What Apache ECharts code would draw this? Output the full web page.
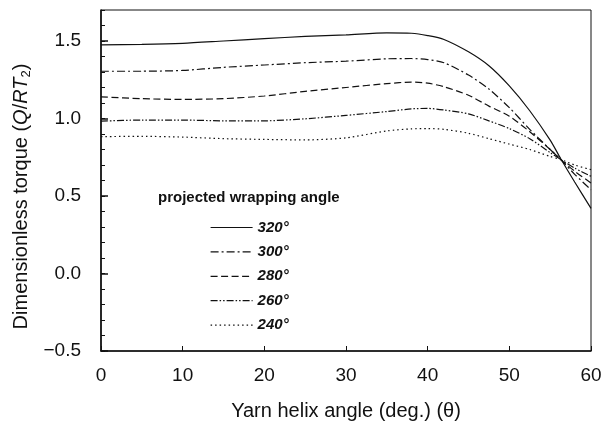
<!DOCTYPE html>
<html>
<head>
<meta charset="utf-8">
<script src="https://cdn.jsdelivr.net/npm/echarts@6/dist/echarts.min.js"></script>
<style>
  html, body { margin: 0; padding: 0; background: #fff; }
  #chart { width: 614px; height: 426px; }
</style>
</head>
<body>
<div id="chart"></div>
<script>
// helix angle samples (deg)
const helix = [0, 5, 10, 15, 20, 25, 30, 35, 38, 40, 42, 45, 47.5, 50, 52.5, 55, 56.3, 58, 60]

// dimensionless torque per projected wrapping angle
const t320 = [1.475, 1.478, 1.485, 1.50, 1.515, 1.53, 1.54, 1.553, 1.55, 1.535, 1.51, 1.43, 1.34, 1.21, 1.05, 0.86, 0.74, 0.59, 0.42]
const t300 = [1.305, 1.305, 1.31, 1.33, 1.345, 1.36, 1.37, 1.385, 1.387, 1.38, 1.36, 1.28, 1.19, 1.07, 0.93, 0.80, 0.735, 0.64, 0.54]
const t280 = [1.14, 1.128, 1.123, 1.128, 1.145, 1.175, 1.2, 1.225, 1.235, 1.228, 1.205, 1.15, 1.08, 1.015, 0.915, 0.80, 0.735, 0.66, 0.584]
const t260 = [0.983, 0.99, 0.99, 0.985, 0.985, 0.998, 1.02, 1.045, 1.062, 1.065, 1.055, 1.03, 0.985, 0.935, 0.87, 0.78, 0.735, 0.68, 0.627]
const t240 = [0.883, 0.885, 0.88, 0.87, 0.865, 0.862, 0.875, 0.92, 0.933, 0.935, 0.93, 0.905, 0.87, 0.835, 0.80, 0.755, 0.735, 0.70, 0.67]

const angleNames = ['320°', '300°', '280°', '260°', '240°']
const seriesValues = [t320, t300, t280, t260, t240]
const dashes = ['solid', [8, 3, 2, 3], [7, 3.5], [7, 2, 1.5, 2, 1.5, 2], [1.5, 3]]

const font = 'Liberation Sans, Arial, sans-serif'
const ink = '#111'

const pairs = (ys) => helix.map((x, i) => [x, ys[i]])

const chart = echarts.init(document.getElementById('chart'), null, { renderer: 'canvas' })

chart.setOption({
  animation: false,
  backgroundColor: '#fff',
  title: {
    text: 'projected wrapping angle',
    left: 158,
    top: 190,
    padding: 0,
    textStyle: { fontFamily: font, fontSize: 15, fontWeight: 'bold', color: ink },
  },
  legend: {
    orient: 'vertical',
    left: 210,
    top: 220,
    padding: 0,
    itemWidth: 42,
    itemHeight: 14,
    itemGap: 9.4,
    data: angleNames,
    itemStyle: { opacity: 0 },
    lineStyle: { width: 1.2 },
    textStyle: { fontFamily: font, fontSize: 15, fontWeight: 'bold', fontStyle: 'italic', color: ink },
  },
  grid: {
    left: 101,
    right: 23,
    top: 10,
    bottom: 75,
    show: true,
    borderColor: ink,
    borderWidth: 1,
  },
  xAxis: {
    type: 'value',
    min: 0,
    max: 60,
    interval: 10,
    name: 'Yarn helix angle (deg.) (θ)',
    nameLocation: 'middle',
    nameGap: 50,
    nameTextStyle: { fontFamily: font, fontSize: 20, color: ink },
    axisLine: { onZero: false, lineStyle: { color: ink, width: 1.6 } },
    axisTick: { inside: true, length: 5, lineStyle: { color: ink } },
    axisLabel: { margin: 15, fontFamily: font, fontSize: 19, color: ink },
    splitLine: { show: false },
  },
  yAxis: [
    {
      // minor ticks every 0.1
      type: 'value',
      min: -0.5,
      max: 1.7,
      interval: 0.1,
      axisLine: { onZero: false, lineStyle: { color: ink, width: 1.6 } },
      axisTick: { inside: true, length: 4, lineStyle: { color: ink } },
      axisLabel: { show: false },
      splitLine: { show: false },
    },
    {
      type: 'value',
      min: -0.5,
      max: 1.7,
      interval: 0.5,
      position: 'left',
      name: 'Dimensionless torque ({it|Q}/{it|RT}{sub|2})',
      nameLocation: 'middle',
      nameGap: 57,
      nameTextStyle: {
        fontFamily: font,
        fontSize: 20,
        color: ink,
        padding: [0, 32, 0, 0],
        rich: {
          it: { fontFamily: font, fontSize: 20, fontStyle: 'italic', color: ink },
          sub: { fontFamily: font, fontSize: 13, color: ink, verticalAlign: 'bottom', padding: [9, 0, 0, 0] },
        },
      },
      axisLine: { show: false, onZero: false },
      axisTick: { inside: true, length: 7, lineStyle: { color: ink, width: 1.5 } },
      axisLabel: {
        margin: 20,
        fontFamily: font,
        fontSize: 19,
        color: ink,
        showMaxLabel: false,
        formatter: (v) => (v < 0 ? '\u2212' + Math.abs(v).toFixed(1) : v.toFixed(1)),
      },
      splitLine: { show: false },
    },
  ],
  series: angleNames.map((name, i) => ({
    name,
    type: 'line',
    yAxisIndex: 0,
    data: pairs(seriesValues[i]),
    symbol: 'none',
    smooth: 0.25,
    lineStyle: { color: ink, width: 1.2, type: dashes[i] },
    itemStyle: { color: ink },
  })),
})
</script>
</body>
</html>
